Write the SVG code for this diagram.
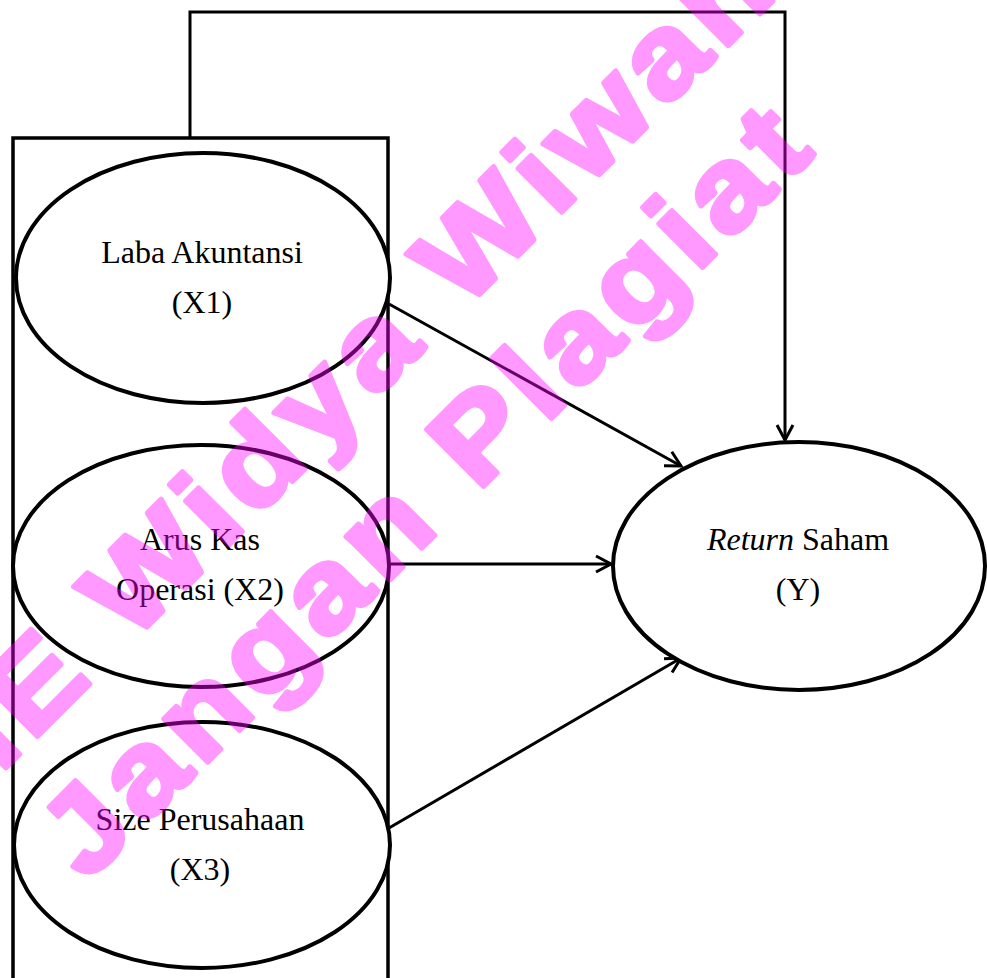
<svg xmlns="http://www.w3.org/2000/svg" width="987" height="978" viewBox="0 0 987 978">
<style>
.node{fill:#fff;stroke:#000;stroke-width:4}
.frame{fill:none;stroke:#000;stroke-width:3.5}
.conn{fill:none;stroke:#000;stroke-width:3}
.lbl{font-family:"Liberation Serif","Times New Roman",serif;font-size:32px;fill:#000;text-anchor:middle}
.wm{font-family:"Liberation Sans",Arial,sans-serif;font-weight:bold;font-size:117px;letter-spacing:7.3px;fill:#ff00ff;stroke:#ff00ff;stroke-width:5;stroke-linejoin:round}
</style>
<defs>
<marker id="arr" markerUnits="userSpaceOnUse" markerWidth="30" markerHeight="30" viewBox="-20 -15 30 30" refX="0" refY="0" orient="auto">
<path d="M-15,-8 L0,0 L-15,8" fill="none" stroke="#000" stroke-width="3"/>
</marker>
</defs>
<rect width="987" height="978" fill="#fff"/>
<g id="frame">
<rect class="frame" x="13" y="138" width="375" height="860"/>
</g>
<g id="connectors">
<path class="conn" d="M190,138 V12 H785 V440" marker-end="url(#arr)"/>
<line class="conn" x1="389" y1="304" x2="681" y2="466" marker-end="url(#arr)"/>
<line class="conn" x1="389" y1="564" x2="611" y2="564" marker-end="url(#arr)"/>
<line class="conn" x1="389" y1="828" x2="681" y2="658" marker-end="url(#arr)"/>
</g>
<g id="laba">
<ellipse class="node" cx="203" cy="278" rx="187" ry="125"/>
<text class="lbl" x="202" y="263">Laba Akuntansi</text>
<text class="lbl" x="202" y="313">(X1)</text>
</g>
<g id="arus">
<ellipse class="node" cx="201" cy="566" rx="188" ry="121"/>
<text class="lbl" x="200" y="550">Arus Kas</text>
<text class="lbl" x="200" y="600">Operasi (X2)</text>
</g>
<g id="size">
<ellipse class="node" cx="202" cy="845" rx="188" ry="123"/>
<text class="lbl" x="200" y="830">Size Perusahaan</text>
<text class="lbl" x="200" y="880">(X3)</text>
</g>
<g id="return">
<ellipse class="node" cx="799" cy="566" rx="186" ry="124"/>
<text class="lbl" x="798" y="550"><tspan font-style="italic">Return</tspan> Saham</text>
<text class="lbl" x="798" y="600">(Y)</text>
</g>
<g id="watermark" opacity="0.4">
<text class="wm" transform="translate(-130,904) rotate(-45) scale(1.12,1)">STIE Widya Wiwaha</text>
<text class="wm" transform="translate(87,883) rotate(-45) scale(1.12,1)">Jangan Plagiat</text>
</g>
</svg>
